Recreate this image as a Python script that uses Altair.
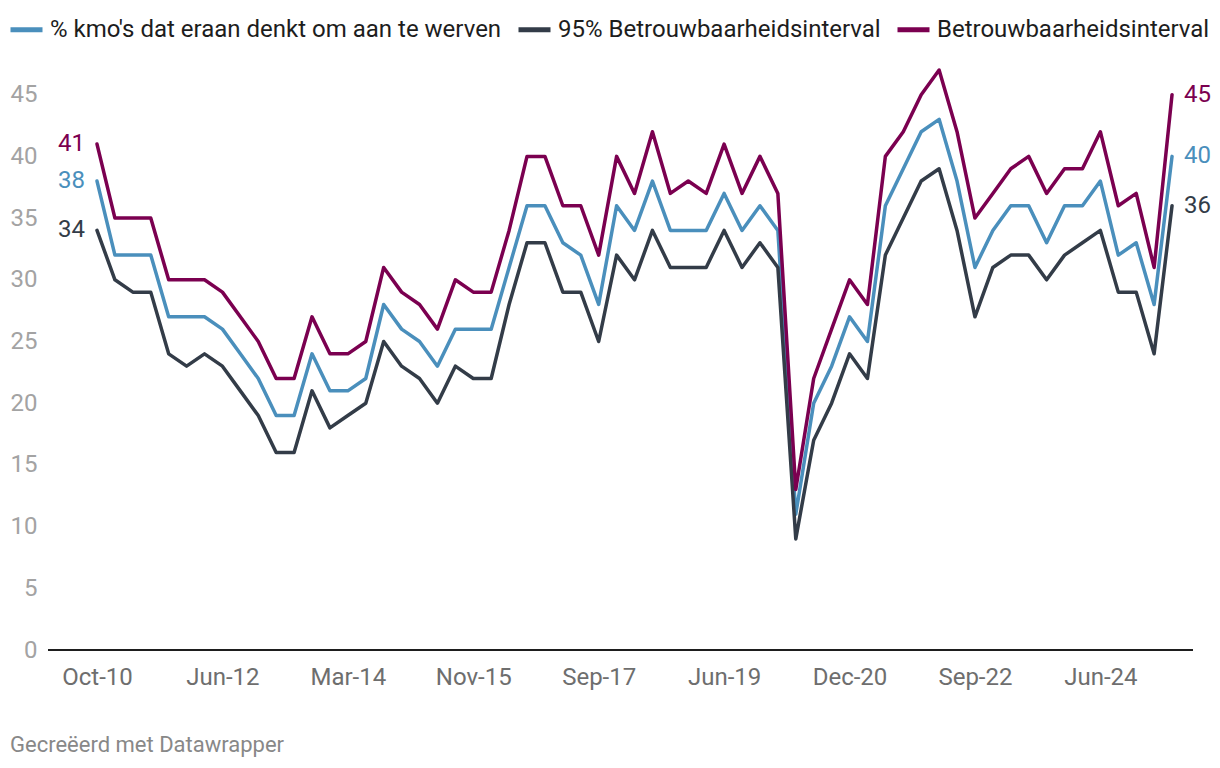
import altair as alt
import pandas as pd

series_names = [
    "% kmo's dat eraan denkt om aan te werven",
    "95% Betrouwbaarheidsinterval",
    "Betrouwbaarheidsinterval",
]
series_colors = ["#4a8fbc", "#333c48", "#7b0050"]

tick_labels = ["Oct-10", "Jun-12", "Mar-14", "Nov-15", "Sep-17",
               "Jun-19", "Dec-20", "Sep-22", "Jun-24"]
tick_step = 7

blue = [38, 32, 32, 32, 27, 27, 27, 26, 24, 22,
        19, 19, 24, 21, 21, 22, 28, 26, 25, 23,
        26, 26, 26, 31, 36, 36, 33, 32, 28, 36,
        34, 38, 34, 34, 34, 37, 34, 36, 34, 11,
        20, 23, 27, 25, 36, 39, 42, 43, 38, 31,
        34, 36, 36, 33, 36, 36, 38, 32, 33, 28,
        40]
dark = [34, 30, 29, 29, 24, 23, 24, 23, 21, 19,
        16, 16, 21, 18, 19, 20, 25, 23, 22, 20,
        23, 22, 22, 28, 33, 33, 29, 29, 25, 32,
        30, 34, 31, 31, 31, 34, 31, 33, 31, 9,
        17, 20, 24, 22, 32, 35, 38, 39, 34, 27,
        31, 32, 32, 30, 32, 33, 34, 29, 29, 24,
        36]
maroon = [41, 35, 35, 35, 30, 30, 30, 29, 27, 25,
          22, 22, 27, 24, 24, 25, 31, 29, 28, 26,
          30, 29, 29, 34, 40, 40, 36, 36, 32, 40,
          37, 42, 37, 38, 37, 41, 37, 40, 37, 13,
          22, 26, 30, 28, 40, 42, 45, 47, 42, 35,
          37, 39, 40, 37, 39, 39, 42, 36, 37, 31,
          45]

footer_text = "Gecreëerd met Datawrapper"

rows = []
for name, vals in zip(series_names, [blue, dark, maroon]):
    for i, v in enumerate(vals):
        rows.append({"idx": i, "series": name, "value": v})
df = pd.DataFrame(rows)
last_idx = len(blue) - 1

W, H = 1145, 580
x_scale = alt.Scale(domain=[-2.735, 61.17], nice=False, zero=False)
y_scale = alt.Scale(domain=[0, 47], nice=False, zero=True)
color_scale = alt.Scale(domain=series_names, range=series_colors)

label_expr = "[" + ",".join("'%s'" % t for t in tick_labels) + "][round(datum.value/%d)]" % tick_step
tick_vals = [i * tick_step for i in range(len(tick_labels))]

x_axis = alt.Axis(values=tick_vals, labelExpr=label_expr, title=None, grid=False,
                  domain=False, ticks=False, tickSize=0, labelFontSize=24,
                  labelColor="#6e6e6e", labelFont="Roboto", labelPadding=15,
                  labelFlush=False, labelOverlap=False)
y_axis = alt.Axis(values=list(range(0, 50, 5)), title=None, grid=False,
                  domain=False, ticks=False, tickSize=0, labelFontSize=24,
                  labelColor="#a3a3a3", labelFont="Roboto", labelPadding=11)

legend = alt.Legend(title=None, orient="none", legendX=-40, legendY=-59,
                    direction="horizontal", symbolType="stroke", symbolSize=1024,
                    symbolStrokeWidth=5, labelFontSize=24, labelFont="Roboto",
                    labelColor="#1d1d1d", labelLimit=0, labelOffset=5,
                    columnPadding=6, padding=0)

base = alt.Chart(df)

baseline = alt.Chart(pd.DataFrame({"y": [0]})).mark_rule(
    color="#1e1e1e", strokeWidth=2
).encode(
    y=alt.Y("y:Q", scale=y_scale, axis=y_axis),
    x=alt.value(0),
    x2=alt.value(W),
)

lines = base.mark_line(strokeWidth=3.5, strokeJoin="round", strokeCap="round").encode(
    x=alt.X("idx:Q", scale=x_scale, axis=x_axis),
    y=alt.Y("value:Q", scale=y_scale, axis=y_axis),
    color=alt.Color("series:N", scale=color_scale, legend=legend, sort=series_names),
)

start_labels = base.transform_filter("datum.idx == 0").mark_text(
    align="right", baseline="middle", dx=-12, fontSize=24, font="Roboto"
).encode(
    x=alt.X("idx:Q", scale=x_scale),
    y=alt.Y("value:Q", scale=y_scale),
    text=alt.Text("value:Q"),
    color=alt.Color("series:N", scale=color_scale, legend=None),
)

end_labels = base.transform_filter("datum.idx == %d" % last_idx).mark_text(
    align="left", baseline="middle", dx=12, fontSize=24, font="Roboto"
).encode(
    x=alt.X("idx:Q", scale=x_scale),
    y=alt.Y("value:Q", scale=y_scale),
    text=alt.Text("value:Q"),
    color=alt.Color("series:N", scale=color_scale, legend=None),
)

footer = alt.Chart(pd.DataFrame({"t": [footer_text]})).mark_text(
    align="left", baseline="alphabetic", fontSize=22, color="#888888", font="Roboto"
).encode(
    x=alt.value(-38),
    y=alt.value(682),
    text="t:N",
)

chart = alt.layer(baseline, lines, start_labels, end_labels, footer).properties(
    width=W,
    height=H,
    autosize=alt.AutoSizeParams(type="none"),
    padding={"left": 40, "top": 62, "right": 19, "bottom": 110},
    background="white",
).configure(font="Roboto").configure_view(strokeWidth=0, stroke=None)

chart.save("out.html", embed_options={"renderer": "svg", "actions": False})
